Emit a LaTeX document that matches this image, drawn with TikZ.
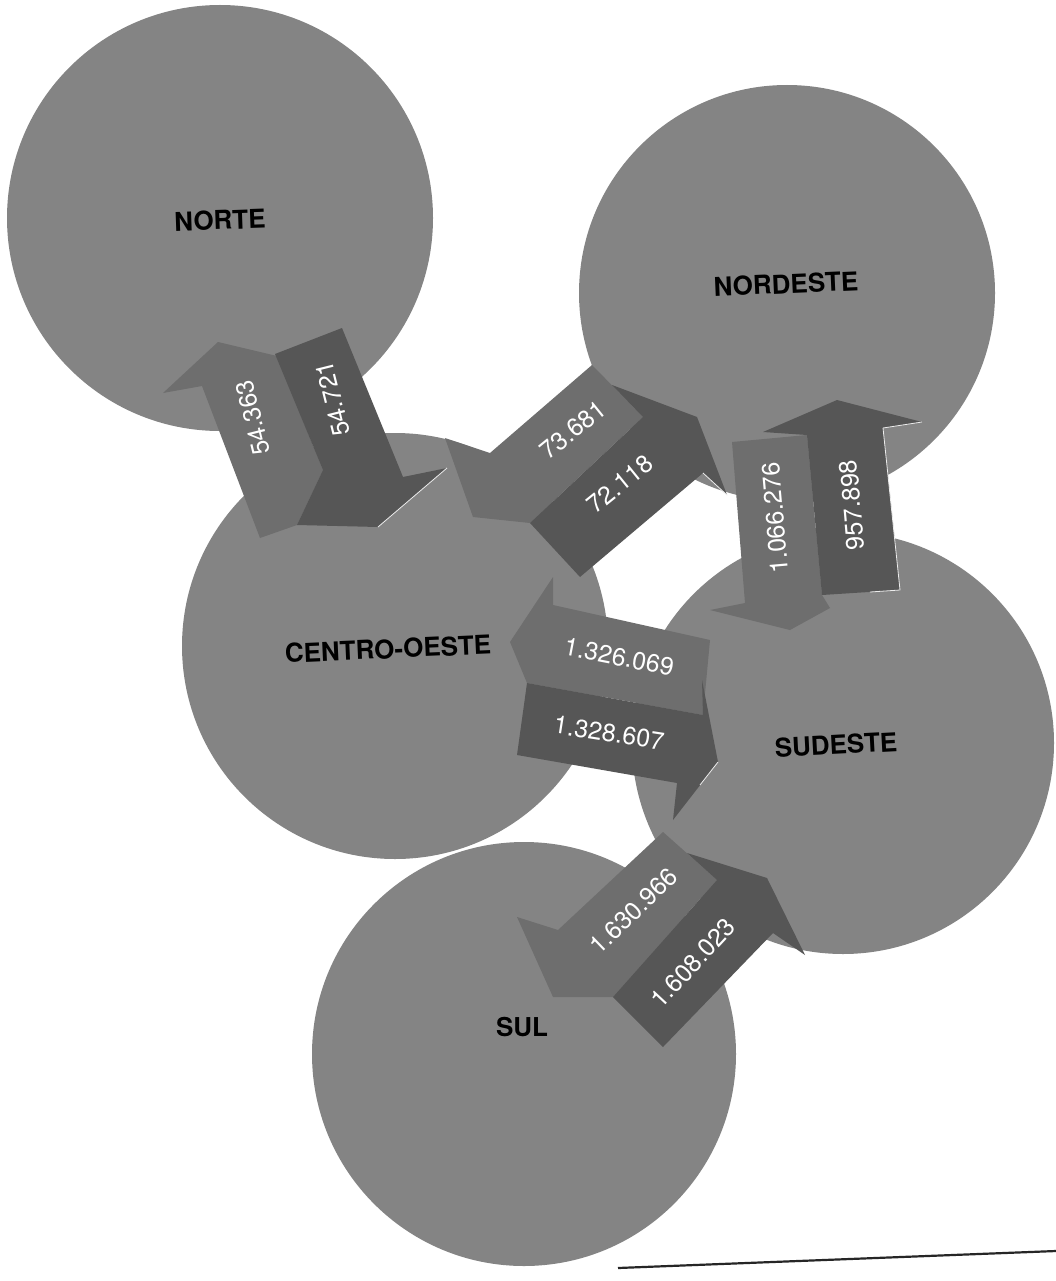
\documentclass[tikz,border=0pt]{standalone}
\usepackage{fontspec}
\setmainfont{TeX Gyre Heros}
\definecolor{circgray}{RGB}{132,132,132}
\definecolor{barlight}{RGB}{110,110,110}
\definecolor{bardark}{RGB}{86,86,86}
\begin{document}
\begin{tikzpicture}[x=1pt,y=-1pt,
  region/.style={circle, fill=circgray, inner sep=0pt, minimum size=#1},
  region/.default=426pt,
  rlabel/.style={font=\fontsize{26}{30}\selectfont\bfseries, text=black, inner sep=0pt},
  flow/.style={font=\fontsize{25}{30}\selectfont, text=white, inner sep=0pt},
  lightbar/.style={fill=barlight},
  darkbar/.style={fill=bardark},
  shine/.style={draw=white!85!gray, line width=0.8pt}]
\useasboundingbox (0,0) rectangle (1056,1281);
\fill[white] (0,0) rectangle (1056,1281);

% regions
\node[region] (norte) at (220,218) {};
\node[region=416pt] (nordeste) at (787,293) {};
\node[region] (centro) at (395,646) {};
\node[region=422pt] (sudeste) at (843,743) {};
\node[region=424pt] (sul) at (524,1054) {};

\node[rlabel, rotate=2] (lnorte) at (220,220) {NORTE};
\node[rlabel, rotate=2.5] (lnordeste) at (786,284) {NORDESTE};
\node[rlabel, rotate=2.5] (lcentro) at (388,649) {CENTRO-OESTE};
\node[rlabel, rotate=3] (lsudeste) at (836,745) {SUDESTE};
\node[rlabel] (lsul) at (522,1027) {SUL};

% NORTE <-> CENTRO-OESTE
\fill[lightbar] (163,393) -- (218,342) -- (277,356) -- (323,470) -- (297,525) -- (260,538) -- (202,386) -- cycle;
\fill[darkbar] (275,354) -- (342,328) -- (403,477) -- (447,468) -- (378,527) -- (297,525) -- (323,470) -- cycle;
\draw[shine] (447,468) -- (378,527);
\node[flow, rotate=104] (f1) at (253,418) {54.363};
\node[flow, rotate=104] (f2) at (333,399) {54.721};

% CENTRO-OESTE <-> NORDESTE
\fill[lightbar] (445,438) -- (490,453) -- (592,365) -- (643,417) -- (530,523) -- (473,517) -- cycle;
\fill[darkbar] (530,523) -- (643,417) -- (612,385) -- (697,417) -- (727,495) -- (703,473) -- (580,577) -- cycle;
\draw[shine] (703,473) -- (727,495);
\node[flow, rotate=39] (f3) at (573,430) {73.681};
\node[flow, rotate=39] (f4) at (620,484) {72.118};

% NORDESTE <-> SUDESTE
\fill[lightbar] (732,442) -- (807,435) -- (822,595) -- (830,608) -- (790,630) -- (710,610) -- (745,603) -- cycle;
\fill[darkbar] (763,432) -- (837,400) -- (922,422) -- (883,428) -- (900,590) -- (822,595) -- (807,435) -- cycle;
\draw[shine] (883,428) -- (922,422);
\draw[shine] (883,428) -- (900,590) -- (870,592);
\node[flow, rotate=95] (f5) at (775,518) {1.066.276};
\node[flow, rotate=95] (f6) at (852,505) {957.898};

% CENTRO-OESTE <-> SUDESTE
\fill[lightbar] (553,577) -- (553,605) -- (710,640) -- (703,715) -- (527,683) -- (510,642) -- cycle;
\fill[darkbar] (527,683) -- (703,715) -- (702,680) -- (718,762) -- (673,820) -- (677,783) -- (517,755) -- cycle;
\draw[shine] (718,762) -- (700,785);
\node[flow, rotate=-11] (f7) at (619,657) {1.326.069};
\node[flow, rotate=-9] (f8) at (609,733) {1.328.607};

% SUDESTE <-> SUL
\fill[lightbar] (517,917) -- (558,930) -- (663,832) -- (717,880) -- (613,997) -- (553,997) -- cycle;
\fill[darkbar] (613,997) -- (717,880) -- (687,853) -- (767,878) -- (805,955) -- (773,933) -- (663,1047) -- cycle;
\node[flow, rotate=44] (f9) at (633,911) {1.630.966};
\node[flow, rotate=47] (f10) at (693,963) {1.608.023};

% stray rule at the bottom
\coordinate (r1) at (618,1268);
\coordinate (r2) at (1056,1251);
\draw[line width=2.2pt, black!85] (r1) -- (r2);
\end{tikzpicture}
\end{document}
